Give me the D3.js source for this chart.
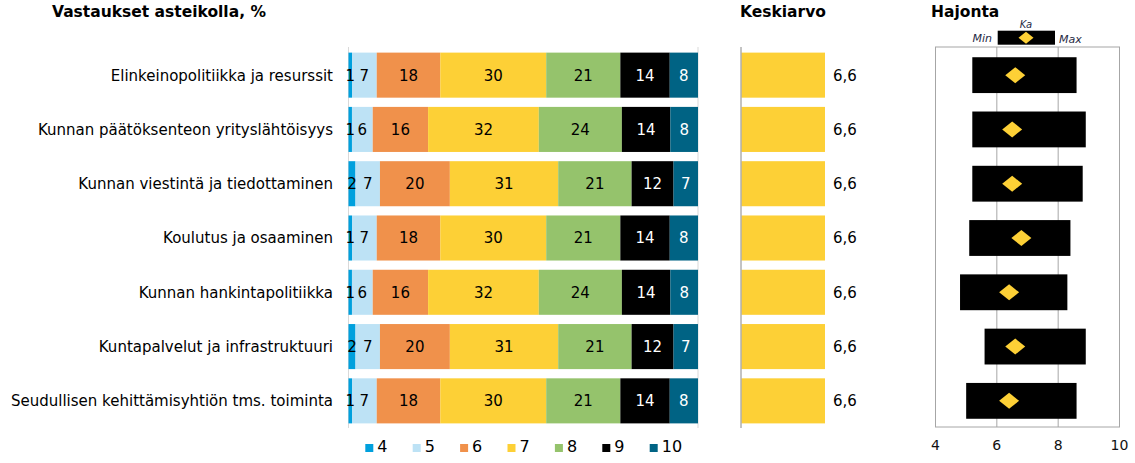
<!DOCTYPE html>
<html><head><meta charset="utf-8">
<script src="https://cdn.jsdelivr.net/npm/d3@7"></script>
<style>
html,body{margin:0;padding:0;background:#fff;}
svg{display:block;font-family:"DejaVu Sans",Verdana,sans-serif;}
</style></head>
<body>
<svg id="chart" width="1135" height="463"></svg>
<script>
// ---- data ----
const categories = [
  "Elinkeinopolitiikka ja resurssit",
  "Kunnan päätöksenteon yrityslähtöisyys",
  "Kunnan viestintä ja tiedottaminen",
  "Koulutus ja osaaminen",
  "Kunnan hankintapolitiikka",
  "Kuntapalvelut ja infrastruktuuri",
  "Seudullisen kehittämisyhtiön tms. toiminta"
];
const scaleKeys = ["4","5","6","7","8","9","10"];
const v4  = [1,1,2,1,1,2,1];
const v5  = [7,6,7,7,6,7,7];
const v6  = [18,16,20,18,16,20,18];
const v7  = [30,32,31,30,32,31,30];
const v8  = [21,24,21,21,24,21,21];
const v9  = [14,14,12,14,14,12,14];
const v10 = [8,8,7,8,8,7,8];
const means = [6.6,6.6,6.6,6.6,6.6,6.6,6.6];
const minVals = [5.2,5.2,5.2,5.1,4.8,5.6,5.0];
const maxVals = [8.6,8.9,8.8,8.4,8.3,8.9,8.6];
const kaVals  = [6.6,6.5,6.5,6.8,6.4,6.6,6.4];
const hajontaTicks = [4,6,8,10];
const colors = ["#00a0dd","#bde2f5","#f0914b","#fdd036","#95c36c","#000000","#006384"];
const textColors = ["#000","#000","#000","#000","#000","#fff","#fff"];

// ---- build ----
const seriesArr = [v4,v5,v6,v7,v8,v9,v10];
const rows = categories.map((c,i)=>{
  const o = {cat:c};
  scaleKeys.forEach((k,j)=>o[k]=seriesArr[j][i]);
  return o;
});
const stacked = d3.stack().keys(scaleKeys).offset(d3.stackOffsetExpand)(rows);

const svg = d3.select("#chart");
const y = d3.scaleBand().domain(categories).range([48,428]).paddingInner(0.17).paddingOuter(0.085);
const yH = d3.scaleBand().domain(categories).range([48,428]).paddingInner(0.34).paddingOuter(0.17);
const x = d3.scaleLinear().domain([0,1]).range([348.5,698]);
const xm = d3.scaleLinear().domain([0,10]).range([741.5,868]);
const xh = d3.scaleLinear().domain([4,10]).range([935.5,1119.5]);
const color = d3.scaleOrdinal().domain(scaleKeys).range(colors);
const tcol = d3.scaleOrdinal().domain(scaleKeys).range(textColors);

// titles
svg.append("text").attr("x",52).attr("y",17).attr("font-weight","bold").attr("font-size",15.5).text("Vastaukset asteikolla, %");
svg.append("text").attr("x",740).attr("y",17).attr("font-weight","bold").attr("font-size",15.5).text("Keskiarvo");
svg.append("text").attr("x",931).attr("y",17).attr("font-weight","bold").attr("font-size",15.5).text("Hajonta");

// main axis lines
svg.append("line").attr("x1",x(0)).attr("x2",x(0)).attr("y1",47).attr("y2",428).attr("stroke","#d9d9d9");
svg.append("line").attr("x1",x(1)).attr("x2",x(1)).attr("y1",47).attr("y2",428).attr("stroke","#d9d9d9");

// category labels
svg.append("g").selectAll("text").data(categories).join("text")
  .attr("x",333).attr("y",d=>y(d)+y.bandwidth()/2).attr("dy","0.36em")
  .attr("text-anchor","end").attr("font-size",15).attr("fill","#000").text(d=>d);

// stacked bars
const layers = svg.append("g").selectAll("g").data(stacked).join("g").attr("fill",d=>color(d.key));
layers.selectAll("rect").data(d=>d).join("rect")
  .attr("x",d=>x(d[0])).attr("width",d=>x(d[1])-x(d[0]))
  .attr("y",d=>y(d.data.cat)).attr("height",y.bandwidth());
const lab = svg.append("g").selectAll("g").data(stacked).join("g");
lab.selectAll("text").data(d=>d.map(p=>({p,key:d.key}))).join("text")
  .attr("x",d=>(x(d.p[0])+x(d.p[1]))/2).attr("y",d=>y(d.p.data.cat)+y.bandwidth()/2).attr("dy","0.36em")
  .attr("text-anchor","middle").attr("font-size",15).attr("fill",d=>tcol(d.key))
  .text(d=>d.p.data[d.key]);

// legend
const lg = svg.append("g").selectAll("g").data(scaleKeys).join("g")
  .attr("transform",(d,i)=>`translate(${365.3+i*47.4},0)`);
lg.append("rect").attr("x",0).attr("y",444).attr("width",8).attr("height",8).attr("fill",d=>color(d));
lg.append("text").attr("x",12).attr("y",452).attr("font-size",16).text(d=>d);

// Keskiarvo
svg.append("g").selectAll("rect").data(means).join("rect")
  .attr("x",xm(0)).attr("width",d=>xm(d)-xm(0))
  .attr("y",(d,i)=>y(categories[i])).attr("height",y.bandwidth()).attr("fill","#fdd036");
svg.append("line").attr("x1",741).attr("x2",741).attr("y1",47).attr("y2",428).attr("stroke","#888");
svg.append("g").selectAll("text").data(means).join("text")
  .attr("x",833).attr("y",(d,i)=>y(categories[i])+y.bandwidth()/2).attr("dy","0.36em")
  .attr("font-size",15).text(d=>d3.format(".1f")(d).replace(".",","));

// Hajonta
svg.append("g").selectAll("line").data(hajontaTicks.slice(1,3)).join("line")
  .attr("x1",d=>xh(d)).attr("x2",d=>xh(d)).attr("y1",47).attr("y2",427).attr("stroke","#a6a6a6");
svg.append("rect").attr("x",xh(4)).attr("y",47).attr("width",xh(10)-xh(4)).attr("height",380)
  .attr("fill","none").attr("stroke","#a6a6a6");
svg.append("g").selectAll("rect").data(categories).join("rect")
  .attr("x",(d,i)=>xh(minVals[i])).attr("width",(d,i)=>xh(maxVals[i])-xh(minVals[i]))
  .attr("y",d=>yH(d)).attr("height",yH.bandwidth()).attr("fill","#000");
const diamond = (cx,cy,w,h)=>`M${cx-w/2},${cy}L${cx},${cy-h/2}L${cx+w/2},${cy}L${cx},${cy+h/2}Z`;
svg.append("g").selectAll("path").data(categories).join("path")
  .attr("d",(d,i)=>diamond(xh(kaVals[i]),yH(d)+yH.bandwidth()/2,20,16)).attr("fill","#fdd036");
svg.append("g").selectAll("text").data(hajontaTicks).join("text")
  .attr("x",d=>xh(d)).attr("y",450).attr("text-anchor","middle").attr("font-size",14).attr("fill","#111")
  .text(d=>d);

// Hajonta key
svg.append("rect").attr("x",997.7).attr("y",30.7).attr("width",57.3).attr("height",14).attr("fill","#000");
svg.append("path").attr("d",diamond(1026,37.7,15,12)).attr("fill","#fdd036");
svg.append("text").attr("x",992).attr("y",42).attr("text-anchor","end").attr("font-size",11).attr("font-style","italic").attr("fill","#1f2a44").text("Min");
svg.append("text").attr("x",1059).attr("y",43).attr("font-size",11).attr("font-style","italic").attr("fill","#1f2a44").text("Max");
svg.append("text").attr("x",1026).attr("y",28).attr("text-anchor","middle").attr("font-size",10).attr("font-style","italic").attr("fill","#1f2a44").text("Ka");
</script>
</body></html>
